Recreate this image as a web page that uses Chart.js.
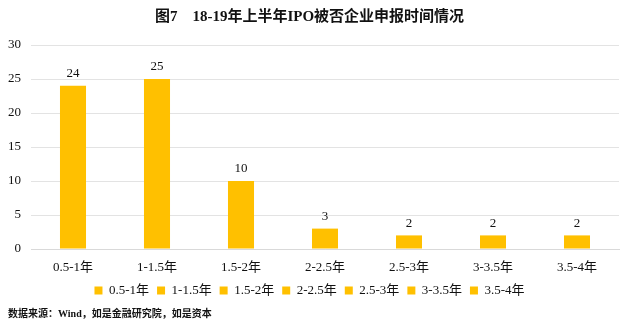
<!DOCTYPE html>
<html>
<head>
<meta charset="utf-8">
<script src="https://cdn.jsdelivr.net/npm/chart.js@4/dist/chart.umd.min.js"></script>
<style>
  html, body { margin: 0; padding: 0; background: #fff; }
  #wrap { width: 624px; height: 326px; position: relative; }
</style>
</head>
<body>
<div id="wrap"><canvas id="barChart" width="624" height="326"></canvas></div>
<script>
// applications by time between filing and rejection
const categories = ['0.5-1年', '1-1.5年', '1.5-2年', '2-2.5年', '2.5-3年', '3-3.5年', '3.5-4年'];
const counts = [24, 25, 10, 3, 2, 2, 2];
const yTicks = [0, 5, 10, 15, 20, 25, 30];

const titleText = '图7\u300018-19年上半年IPO被否企业申报时间情况';
const sourceText = '数据来源：Wind，如是金融研究院，如是资本';

const barColor = '#FFC000';
const textColor = '#111';
const fontFamily = '"Liberation Serif", "Times New Roman", "Noto Sans CJK SC", serif';

// numbers above each bar
const valueLabels = {
  id: 'valueLabels',
  afterDatasetsDraw(chart) {
    const ctx = chart.ctx;
    const meta = chart.getDatasetMeta(0);
    ctx.save();
    ctx.font = '13px ' + fontFamily;
    ctx.fillStyle = textColor;
    ctx.textAlign = 'center';
    ctx.textBaseline = 'middle';
    meta.data.forEach((bar, i) => {
      ctx.fillText(String(counts[i]), bar.x, bar.y - 12);
    });
    ctx.restore();
  }
};

// source note under the legend
const sourceNote = {
  id: 'sourceNote',
  afterDraw(chart) {
    const ctx = chart.ctx;
    ctx.save();
    ctx.font = 'bold 10px ' + fontFamily;
    ctx.fillStyle = textColor;
    ctx.textAlign = 'left';
    ctx.textBaseline = 'middle';
    ctx.fillText(sourceText, 8, 314);
    ctx.restore();
  }
};

const ctx = document.getElementById('barChart').getContext('2d');
new Chart(ctx, {
  type: 'bar',
  data: {
    labels: categories,
    datasets: [{
      data: counts,
      backgroundColor: barColor,
      borderWidth: 0,
      categoryPercentage: 1,
      barPercentage: 0.31
    }]
  },
  options: {
    responsive: false,
    animation: false,
    layout: { padding: { left: 0, right: 5, top: 0, bottom: 19 } },
    scales: {
      x: {
        // keep the legend tucked close under the category labels
        afterFit(scale) { scale.height = 27; },
        grid: { display: false, drawTicks: false },
        border: { display: true, color: '#d9d9d9', width: 1 },
        ticks: {
          color: textColor,
          padding: 11,
          maxRotation: 0,
          autoSkip: false,
          font: { family: fontFamily, size: 13 }
        }
      },
      y: {
        min: yTicks[0],
        max: yTicks[yTicks.length - 1],
        afterFit(scale) { scale.width = 31; },
        afterBuildTicks(scale) { scale.ticks = yTicks.map(v => ({ value: v })); },
        grid: { color: '#e3e3e3', drawTicks: false },
        border: { display: false },
        ticks: {
          color: textColor,
          padding: 10,
          font: { family: fontFamily, size: 13 }
        }
      }
    },
    plugins: {
      title: {
        display: true,
        text: titleText,
        color: textColor,
        padding: { top: 8, bottom: 19 },
        font: { family: fontFamily, size: 15, weight: 'bold' }
      },
      legend: {
        position: 'bottom',
        onClick: null,
        labels: {
          boxWidth: 8,
          boxHeight: 8,
          padding: 8,
          color: textColor,
          font: { family: fontFamily, size: 13 },
          generateLabels() {
            return categories.map((c, i) => ({
              text: c,
              fillStyle: barColor,
              strokeStyle: barColor,
              lineWidth: 0,
              fontColor: textColor,
              hidden: false,
              index: i,
              datasetIndex: 0
            }));
          }
        }
      },
      tooltip: { enabled: false }
    }
  },
  plugins: [valueLabels, sourceNote]
});
</script>
</body>
</html>
